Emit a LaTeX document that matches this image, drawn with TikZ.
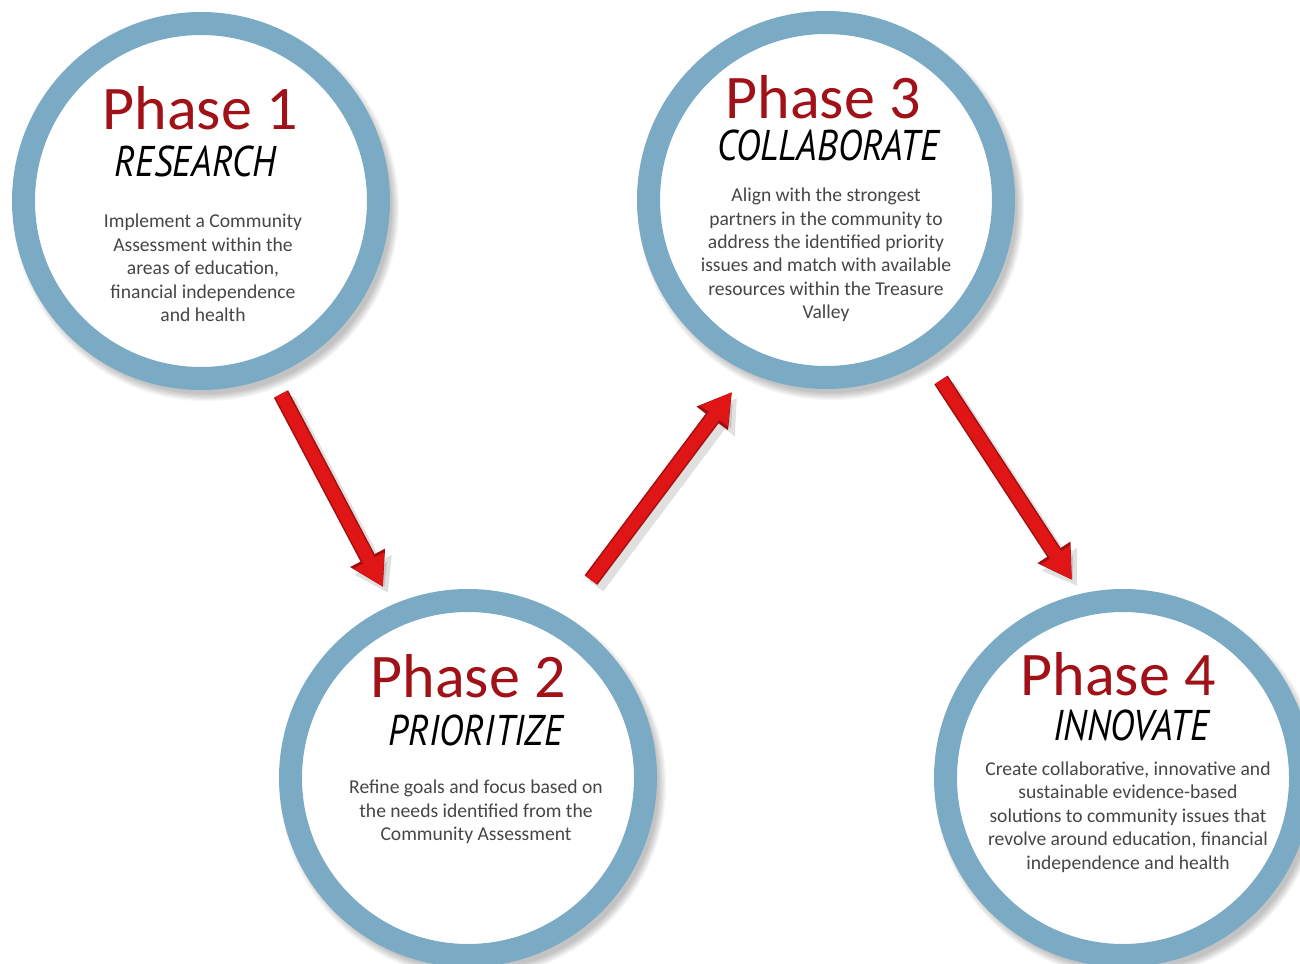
\documentclass[tikz,border=0pt]{standalone}
\usepackage{fontspec}
\setmainfont{Carlito}
\newfontfamily\handfont{PT Sans}
\usetikzlibrary{arrows.meta,calc}
\definecolor{ringblue}{RGB}{122,170,196}
\definecolor{phasered}{RGB}{160,18,24}
\definecolor{bodygray}{RGB}{70,70,70}
\definecolor{arrowred}{RGB}{224,22,22}
\definecolor{arrowdark}{RGB}{160,14,14}
\begin{document}
\begin{tikzpicture}[x=1pt,y=-1pt,
  ring/.style={circle, draw=ringblue, line width=23pt, fill=white, minimum size=355pt, inner sep=0pt},
  head/.style={anchor=base, text=phasered, font=\fontsize{62}{62}\selectfont, inner sep=0pt},
  sub/.style={anchor=base, text=black, font=\handfont\itshape\fontsize{43}{43}\selectfont, inner sep=0pt},
  body/.style={align=center, text=bodygray, font=\fontsize{19.6}{23.4}\selectfont, inner sep=0pt},
  flow/.style={line width=13pt, arrowred, -{Triangle[length=30pt,width=32pt]}},
  flowedge/.style={line width=16pt, arrowdark, -{Triangle[length=33pt,width=37pt]}},
  flowshadow/.style={line width=18pt, black, opacity=0.12, -{Triangle[length=32pt,width=40pt]}}
]
\useasboundingbox (0,0) rectangle (1300,963);
\fill[white] (0,0) rectangle (1300,963);

% circle shadows
\foreach \cx/\cy in {201/201, 826/200, 468/778, 1123/778}{
  \foreach \k in {0,2,...,12}{
    \fill[black, opacity=0.035] (\cx+5,\cy+7) circle (189+\k*0.6-3);
  }
}

% rings
\node[ring] (p1) at (201,201) {};
\node[ring] (p3) at (826,200) {};
\node[ring] (p2) at (468,778) {};
\node[ring] (p4) at (1123,778) {};

% Phase 1
\node[head] (h1) at (200,129) {Phase 1};
\node[sub] (s1) at (195,176) {\scalebox{0.86}[1]{RESEARCH}};
\node[body] (b1) at (203,268) {Implement a Community\\Assessment within the\\areas of education,\\financial independence\\and health};

% Phase 3
\node[head] (h3) at (823,118) {Phase 3};
\node[sub] (s3) at (828,160) {\scalebox{0.86}[1]{COLLABORATE}};
\node[body] (b3) at (826,255) {Align with the strongest\\partners in the community to\\address the identified priority\\issues and match with available\\resources within the Treasure\\Valley};

% Phase 2
\node[head] (h2) at (468,697) {Phase 2};
\node[sub] (s2) at (476,745) {\scalebox{0.86}[1]{PRIORITIZE}};
\node[body] (b2) at (476,812) {Refine goals and focus based on\\the needs identified from the\\Community Assessment};

% Phase 4
\node[head] (h4) at (1118,695) {Phase 4};
\node[sub] (s4) at (1131,740) {\scalebox{0.86}[1]{INNOVATE}};
\node[body] (b4) at (1128,817) {Create collaborative, innovative and\\sustainable evidence-based\\solutions to community issues that\\revolve around education, financial\\independence and health};

% arrow end points
\coordinate (a1s) at (281,394);
\coordinate (a1e) at (383,587);
\coordinate (a2s) at (591,580);
\coordinate (a2e) at (732,392);
\coordinate (a3s) at (941,380);
\coordinate (a3e) at (1072,580);

\foreach \s/\e in {a1s/a1e, a2s/a2e, a3s/a3e}{
  \draw[flowshadow] ($(\s)+(5,6)$) -- ($(\e)+(5,6)$);
  \draw[flowedge] (\s) -- (\e);
  \draw[flow] (\s) -- (\e);
}
\end{tikzpicture}
\end{document}
